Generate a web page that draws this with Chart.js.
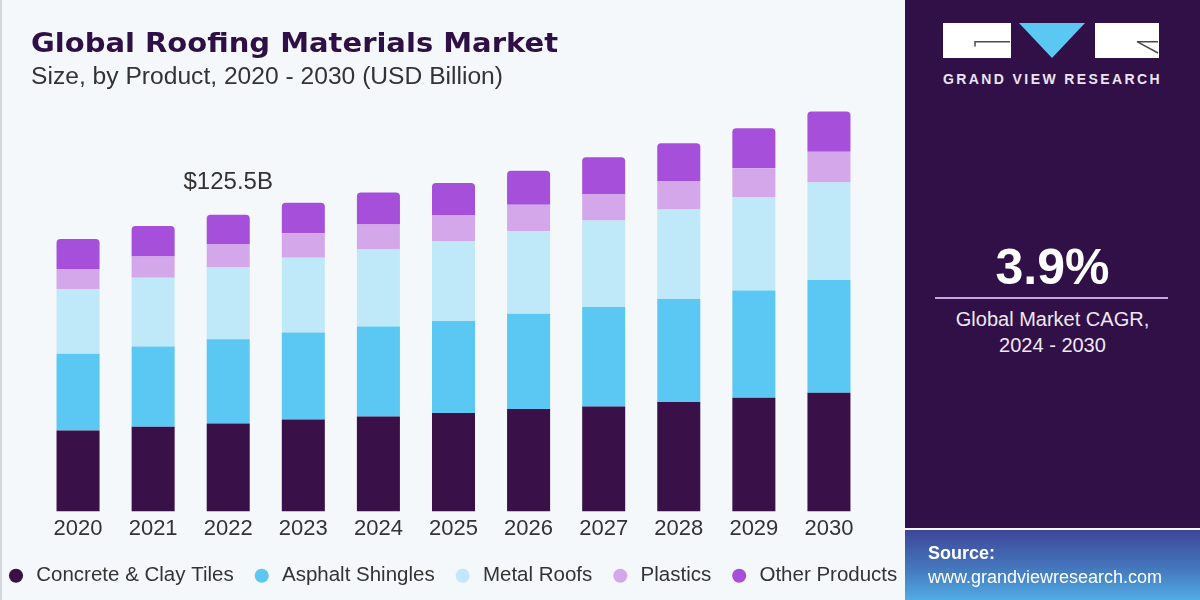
<!DOCTYPE html>
<html>
<head>
<meta charset="utf-8">
<script src="https://cdn.jsdelivr.net/npm/chart.js@4.4.1/dist/chart.umd.min.js"></script>
<style>
html,body{margin:0;padding:0;width:1200px;height:600px;overflow:hidden;background:#f4f8fb;font-family:"Liberation Sans",Arial,sans-serif;}
#wrap{position:absolute;left:-12px;top:0;width:1212px;height:600px;}
.abs{position:absolute;white-space:nowrap;line-height:1;}
#leftline{position:absolute;left:0;top:0;width:2px;height:600px;background:#d3d7dc;}
#title{left:31px;top:29px;font-family:"DejaVu Sans";font-weight:bold;font-size:27px;color:#2e0f46;transform-origin:0 0;}
#subtitle{left:31px;top:65px;font-size:23px;color:#333;transform-origin:0 0;}
#panel{position:absolute;left:905px;top:0;width:295px;height:528px;background:#301047;}
#source{position:absolute;left:905px;top:530px;width:295px;height:70px;background:linear-gradient(180deg,#3d4699 0%,#4577bd 55%,#50ace4 100%);}
#brand{left:943px;top:72px;font-weight:bold;font-size:14px;letter-spacing:2.4px;color:#ece4f4;}
#cagr{left:905px;width:295px;text-align:center;top:242px;font-weight:bold;font-size:50px;color:#fff;}
#rule{position:absolute;left:935px;top:297px;width:233px;height:2px;background:#c9a6df;}
.cagrtxt{left:905px;width:295px;text-align:center;font-size:20px;color:#eee8f4;}
#src1{left:928px;top:544px;font-weight:bold;font-size:18px;color:#fff;}
#src2{left:928px;top:568px;font-size:18px;color:#fff;}
</style>
</head>
<body>
<div id="wrap"><canvas id="c" width="1212" height="600"></canvas></div>
<div id="leftline"></div>
<div id="title" class="abs">Global Roofing Materials Market</div>
<div id="subtitle" class="abs">Size, by Product, 2020 - 2030 (USD Billion)</div>
<div id="panel"></div>
<svg style="position:absolute;left:943px;top:23px" width="218" height="36">
  <rect x="0" y="0" width="68" height="35" fill="#ffffff"/>
  <polyline points="32,23.5 32,18.7 67,18.7" stroke="#4a4a4a" stroke-width="1.5" fill="none"/>
  <polygon points="76,0 142,0 109,35" fill="#5bc8f3"/>
  <rect x="152" y="0" width="64" height="35" fill="#ffffff"/>
  <polyline points="215,18.7 194,18.7 215,30" stroke="#4a4a4a" stroke-width="1.5" fill="none"/>
</svg>
<div id="brand" class="abs">GRAND VIEW RESEARCH</div>
<div id="cagr" class="abs">3.9%</div>
<div id="rule"></div>
<div class="abs cagrtxt" style="top:309px">Global Market CAGR,</div>
<div class="abs cagrtxt" style="top:335px">2024 - 2030</div>
<div id="source"></div>
<div id="src1" class="abs">Source:</div>
<div id="src2" class="abs">www.grandviewresearch.com</div>
<script>
const categories = ['2020','2021','2022','2023','2024','2025','2026','2027','2028','2029','2030'];
const concreteClayTiles = [34.2,35.8,37.2,38.9,40.2,41.6,43.3,44.4,46.3,48.1,50.2];
const asphaltShingles   = [32.5,34.0,35.6,36.8,38.0,38.9,40.3,42.1,43.6,45.3,47.7];
const metalRoofs        = [27.3,29.0,30.4,31.6,32.6,33.7,34.9,36.5,37.8,39.6,41.2];
const plastics          = [8.5,9.0,9.9,10.4,10.6,11.0,11.2,11.3,12.0,12.1,13.0];
const otherProducts     = [12.7,12.9,12.4,12.9,13.5,13.7,14.4,15.5,16.0,17.0,17.0];
const seriesNames = ['Concrete & Clay Tiles','Asphalt Shingles','Metal Roofs','Plastics','Other Products'];
const seriesColors = ['#3a1049','#5bc8f3','#bfe8f9','#d4a7ea','#a54fdb'];
const annotatedYear = '2022';
const annotationText = '$125.5B';

(function(){
  const t = document.getElementById('title');
  t.style.transform = 'scaleX(' + (527 / t.getBoundingClientRect().width) + ')';
  const s = document.getElementById('subtitle');
  s.style.transform = 'scaleX(' + (472 / s.getBoundingClientRect().width) + ')';
})();

const seriesData = [concreteClayTiles, asphaltShingles, metalRoofs, plastics, otherProducts];
const datasets = seriesData.map((d, i) => ({
  label: seriesNames[i],
  data: d,
  backgroundColor: seriesColors[i],
  borderWidth: 0,
  pointStyle: 'circle',
  borderRadius: i === seriesData.length - 1 ? {topLeft: 4, topRight: 4, bottomLeft: 0, bottomRight: 0} : 0,
  categoryPercentage: 0.573,
  barPercentage: 1
}));

const totalLabel = {
  id: 'totalLabel',
  afterDatasetsDraw(chart) {
    const {ctx, scales} = chart;
    const idx = categories.indexOf(annotatedYear);
    let total = 0;
    seriesData.forEach(d => total += d[idx]);
    ctx.save();
    ctx.font = '24px "Liberation Sans", Arial, sans-serif';
    ctx.fillStyle = '#333333';
    ctx.textAlign = 'center';
    ctx.textBaseline = 'middle';
    ctx.fillText(annotationText, scales.x.getPixelForValue(idx), scales.y.getPixelForValue(total) - 32);
    ctx.restore();
  }
};

new Chart(document.getElementById('c'), {
  type: 'bar',
  data: { labels: categories, datasets },
  plugins: [totalLabel],
  options: {
    responsive: false,
    animation: false,
    devicePixelRatio: 1,
    layout: { padding: { top: 100, bottom: 4, left: 0, right: 0 } },
    scales: {
      x: {
        stacked: true,
        grid: { display: false, drawTicks: false },
        border: { display: false },
        ticks: { color: '#333333', font: { family: '"Liberation Sans", Arial, sans-serif', size: 22 }, padding: 4, maxRotation: 0, autoSkip: false },
        afterFit(s) { s.height = 36; }
      },
      y: {
        stacked: true, min: 0, max: 174,
        grid: { display: false, drawTicks: false },
        border: { display: false },
        ticks: { display: false },
        afterFit(s) { s.width = 52.5; }
      },
      yR: {
        position: 'right',
        grid: { display: false, drawTicks: false },
        border: { display: false },
        ticks: { display: false },
        afterFit(s) { s.width = 333.5; }
      }
    },
    plugins: {
      legend: {
        position: 'bottom',
        align: 'start',
        labels: {
          usePointStyle: true,
          pointStyle: 'circle',
          boxWidth: 20,
          boxHeight: 10,
          padding: 18,
          color: '#333333',
          font: { family: '"Liberation Sans", Arial, sans-serif', size: 20.5 }
        }
      },
      tooltip: { enabled: false }
    }
  }
});
</script>
</body>
</html>
